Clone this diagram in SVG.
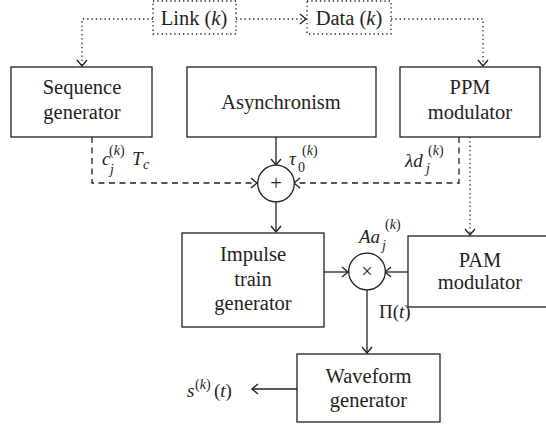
<svg xmlns="http://www.w3.org/2000/svg" width="546" height="427" viewBox="0 0 546 427" font-family="'Liberation Serif', 'Times New Roman', serif">
  <defs>
    <marker id="arr" markerUnits="userSpaceOnUse" markerWidth="16" markerHeight="16" refX="8" refY="8" orient="auto" overflow="visible">
      <path d="M2,3 L8,8 L2,13" fill="none" stroke="#231f20" stroke-width="1.3" stroke-dasharray="none"/>
    </marker>
    <style>
      .box { fill: #fff; stroke: #231f20; stroke-width: 1.3; }
      .dbox { fill: none; stroke: #231f20; stroke-width: 1.3; stroke-dasharray: 1.3 3; }
      .solid { fill: none; stroke: #231f20; stroke-width: 1.3; marker-end: url(#arr); }
      .dash { fill: none; stroke: #231f20; stroke-width: 1.3; stroke-dasharray: 6 4.5; marker-end: url(#arr); }
      .dot { fill: none; stroke: #231f20; stroke-width: 1.3; stroke-dasharray: 1.3 3; marker-end: url(#arr); }
      .circ { fill: #fff; stroke: #231f20; stroke-width: 1.3; }
      text { font-family: 'Liberation Serif', 'Times New Roman', serif; fill: #231f20; }
      .lbl { font-size: 20.5px; text-anchor: middle; }
      .m { font-size: 19px; font-style: italic; }
      .s { font-size: 14px; }
      .i { font-style: italic; }
    </style>
  </defs>

  <!-- connectors -->
  <g id="connectors">
    <path class="dot" d="M153,19 H82 V66"/>
    <path class="dot" d="M236,19 H306"/>
    <path class="dot" d="M391,19 H483 V66"/>
    <path class="dash" d="M92,137 V183 H257"/>
    <path class="dash" d="M459,137 V183 H294"/>
    <path class="solid" d="M276,137 V165"/>
    <path class="solid" d="M276,202 V232"/>
    <path class="solid" d="M324,272 H348"/>
    <path class="solid" d="M408,272 H385"/>
    <path class="dot" d="M470,137 V235"/>
    <path class="solid" d="M367,290 V353"/>
    <path class="solid" d="M297,389 H252"/>
  </g>

  <g id="link">
    <rect class="dbox" x="153" y="1" width="83" height="33"/>
    <text class="lbl" x="194" y="25">Link (<tspan class="i">k</tspan>)</text>
  </g>
  <g id="data">
    <rect class="dbox" x="307" y="1" width="84" height="33"/>
    <text class="lbl" x="349" y="25">Data (<tspan class="i">k</tspan>)</text>
  </g>

  <g id="sequence-generator">
    <rect class="box" x="11" y="67" width="141" height="70"/>
    <text class="lbl" x="82" y="94">Sequence</text>
    <text class="lbl" x="82" y="119">generator</text>
  </g>
  <g id="asynchronism">
    <rect class="box" x="187" y="67" width="189" height="70"/>
    <text class="lbl" x="281" y="109">Asynchronism</text>
  </g>
  <g id="ppm-modulator">
    <rect class="box" x="400" y="67" width="140" height="70"/>
    <text class="lbl" x="470" y="94">PPM</text>
    <text class="lbl" x="470" y="119">modulator</text>
  </g>

  <g id="adder">
    <circle class="circ" cx="276" cy="183.5" r="18.3"/>
    <text class="lbl" x="276" y="190">+</text>
  </g>

  <g id="impulse-train-generator">
    <rect class="box" x="182" y="233" width="142" height="94"/>
    <text class="lbl" x="253" y="261">Impulse</text>
    <text class="lbl" x="253" y="286">train</text>
    <text class="lbl" x="253" y="310">generator</text>
  </g>

  <g id="multiplier">
    <circle class="circ" cx="367" cy="271.5" r="18.3"/>
    <text class="lbl" x="367" y="278">×</text>
  </g>

  <g id="pam-modulator">
    <rect class="box" x="408" y="236" width="144" height="71"/>
    <text class="lbl" x="480" y="267">PAM</text>
    <text class="lbl" x="480" y="289">modulator</text>
  </g>

  <g id="waveform-generator">
    <rect class="box" x="297" y="354" width="143" height="68"/>
    <text class="lbl" x="368.5" y="383">Waveform</text>
    <text class="lbl" x="368.5" y="407">generator</text>
  </g>

  <!-- math labels -->
  <g id="labels">
    <text class="m" x="102" y="165">c</text>
    <text class="s" x="109" y="155">(<tspan class="i">k</tspan>)</text>
    <text class="s i" x="110" y="174">j</text>
    <text class="m" x="132" y="165">T</text>
    <text class="s i" x="143" y="169">c</text>

    <text class="m" x="289" y="165">τ</text>
    <text class="s" x="298" y="172">0</text>
    <text class="s" x="302" y="155">(<tspan class="i">k</tspan>)</text>

    <text class="m" x="405" y="167">λd</text>
    <text class="s" x="428" y="155">(<tspan class="i">k</tspan>)</text>
    <text class="s i" x="426" y="173">j</text>

    <text class="m" x="359" y="243">Aa</text>
    <text class="s" x="385" y="229">(<tspan class="i">k</tspan>)</text>
    <text class="s i" x="382" y="250">j</text>

    <text x="379" y="318" font-size="19">Π(<tspan class="i">t</tspan>)</text>

    <text class="m" x="187" y="397">s</text>
    <text class="s" x="195" y="389">(<tspan class="i">k</tspan>)</text>
    <text x="214" y="397" font-size="19">(<tspan class="i">t</tspan>)</text>
  </g>
</svg>
